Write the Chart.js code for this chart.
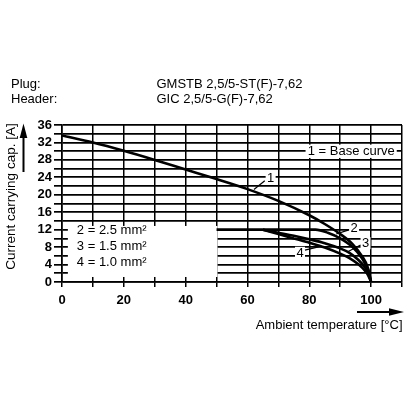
<!DOCTYPE html>
<html>
<head>
<meta charset="utf-8">
<script src="https://cdn.jsdelivr.net/npm/chart.js@4.4.1/dist/chart.umd.min.js"></script>
<style>
  html, body { margin: 0; padding: 0; background: #fff; }
  #wrap { position: relative; width: 408px; height: 408px; }
  canvas { position: absolute; left: 0; top: 0; }
  .hdr { position: absolute; font-family: "Liberation Sans", Arial, sans-serif; font-size: 13px; line-height: 15px; color: #000; white-space: nowrap; }
</style>
</head>
<body>
<div id="wrap">
  <canvas id="c" width="408" height="408"></canvas>
  <div class="hdr" style="left:11px; top:75.5px;">Plug:<br>Header:</div>
  <div class="hdr" style="left:156.5px; top:75.5px;">GMSTB 2,5/5-ST(F)-7,62<br>GIC 2,5/5-G(F)-7,62</div>
</div>
<script>
// ---- data ----
const temp1 = [0, 10, 20, 30, 40, 50, 60, 70, 80, 85, 90, 94, 97, 99, 100];
const baseCurve = [33.6, 32.0, 30.1, 28.0, 25.8, 23.6, 21.3, 18.6, 15.3, 13.3, 11.0, 8.7, 6.0, 3.2, 0];

const temp2 = [50, 82, 86, 90, 94, 97, 99, 100];
const cap25 = [12, 12, 11.3, 10.0, 8.0, 5.5, 2.8, 0];

const temp3 = [65, 70, 75, 80, 85, 90, 93, 96, 98, 99, 100];
const cap15 = [12, 11.3, 10.6, 9.8, 8.9, 7.7, 6.7, 5.0, 3.4, 2.2, 0];

const temp4 = [65, 70, 75, 80, 85, 90, 93, 96, 98, 99, 100];
const cap10 = [12, 11.0, 10.0, 9.0, 7.9, 6.5, 5.5, 4.0, 2.6, 1.6, 0];

const xLabelValues = [0, 20, 40, 60, 80, 100];
const yLabelValues = [0, 4, 8, 12, 16, 20, 24, 28, 32, 36];

const legendLines = ['2 = 2.5 mm\u00B2', '3 = 1.5 mm\u00B2', '4 = 1.0 mm\u00B2'];
const baseLabel = '1 = Base curve';
const yTitle = 'Current carrying cap. [A]';
const xTitle = 'Ambient temperature [\u00B0C]';

// ---- annotation placement (data coordinates) ----
const legendBox = { x0: 1.9, x1: 50.3, y0: 1.15, y1: 12.85 };
const legendTextPos = { x: 4.8, ys: [11.9, 8.2, 4.4] };
const baseBox = { x0: 78.8, x1: 108.3, y0: 28.45, y1: 31.5, tx: 93.6, ty: 30 };
const curveLabels = [
  { t: '1', x: 67.5, y: 23.9, lx0: 65.6, ly0: 23.2, lx1: 62.1, ly1: 21.2 },
  { t: '2', x: 94.5, y: 12.3, lx0: 92.6, ly0: 11.9, lx1: 88.7, ly1: 11.0 },
  { t: '3', x: 98.2, y: 8.9, lx0: 96.6, ly0: 8.5, lx1: 92.6, ly1: 7.0 },
  { t: '4', x: 77.0, y: 6.7, lx0: 78.6, ly0: 7.3, lx1: 83.3, ly1: 8.1 }
];

const FONT = '"Liberation Sans", Arial, sans-serif';
const pts = (xs, ys) => xs.map((x, i) => ({ x: x, y: ys[i] }));

const lineDs = (label, xs, ys) => ({
  label: label,
  data: pts(xs, ys),
  borderColor: '#000',
  borderWidth: 2.6,
  pointRadius: 0,
  fill: false,
  cubicInterpolationMode: 'monotone'
});

const annot = {
  id: 'annot',
  beforeDatasetsDraw(chart) {
    const ctx = chart.ctx, xs = chart.scales.x, ys = chart.scales.y;
    ctx.save();
    ctx.fillStyle = '#fff';
    // legend box
    let l = xs.getPixelForValue(legendBox.x0), r = xs.getPixelForValue(legendBox.x1);
    let t = ys.getPixelForValue(legendBox.y1), b = ys.getPixelForValue(legendBox.y0);
    ctx.fillRect(l, t, r - l, b - t);
    // base curve label box
    l = xs.getPixelForValue(baseBox.x0); r = xs.getPixelForValue(baseBox.x1);
    t = ys.getPixelForValue(baseBox.y1); b = ys.getPixelForValue(baseBox.y0);
    ctx.fillRect(l, t, r - l, b - t);
    ctx.fillStyle = '#000';
    ctx.font = '13px ' + FONT;
    ctx.textBaseline = 'middle';
    ctx.textAlign = 'center';
    ctx.fillText(baseLabel, xs.getPixelForValue(baseBox.tx), ys.getPixelForValue(baseBox.ty));
    ctx.textAlign = 'left';
    legendLines.forEach((s, i) => {
      ctx.fillText(s, xs.getPixelForValue(legendTextPos.x), ys.getPixelForValue(legendTextPos.ys[i]));
    });
    ctx.restore();
  },
  afterDatasetsDraw(chart) {
    const ctx = chart.ctx, xs = chart.scales.x, ys = chart.scales.y;
    ctx.save();
    ctx.font = '13px ' + FONT;
    ctx.textBaseline = 'middle';
    ctx.textAlign = 'center';
    curveLabels.forEach(c => {
      const px = xs.getPixelForValue(c.x), py = ys.getPixelForValue(c.y);
      ctx.fillStyle = '#fff';
      ctx.fillRect(px - 5, py - 6, 10, 12);
      ctx.fillStyle = '#000';
      ctx.fillText(c.t, px, py + 0.5);
      ctx.strokeStyle = '#000';
      ctx.lineWidth = 1.2;
      ctx.beginPath();
      ctx.moveTo(xs.getPixelForValue(c.lx0), ys.getPixelForValue(c.ly0));
      ctx.lineTo(xs.getPixelForValue(c.lx1), ys.getPixelForValue(c.ly1));
      ctx.stroke();
    });
    // y axis title + arrow
    ctx.save();
    ctx.translate(11.5, 196.5);
    ctx.rotate(-Math.PI / 2);
    ctx.font = '13.5px ' + FONT;
    ctx.fillText(yTitle, 0, 0);
    ctx.restore();
    ctx.fillStyle = '#000';
    ctx.strokeStyle = '#000';
    ctx.lineWidth = 2;
    ctx.beginPath(); ctx.moveTo(23.5, 172); ctx.lineTo(23.5, 134); ctx.stroke();
    ctx.beginPath(); ctx.moveTo(23.5, 123.5); ctx.lineTo(27.3, 138); ctx.lineTo(19.7, 138); ctx.closePath(); ctx.fill();
    // x axis title + arrow
    ctx.font = '13px ' + FONT;
    ctx.textAlign = 'right';
    ctx.fillText(xTitle, 402.5, 325);
    ctx.beginPath(); ctx.moveTo(357, 312); ctx.lineTo(393, 312); ctx.stroke();
    ctx.beginPath(); ctx.moveTo(404, 312); ctx.lineTo(389, 308.2); ctx.lineTo(389, 315.8); ctx.closePath(); ctx.fill();
    ctx.restore();
  }
};

new Chart(document.getElementById('c'), {
  type: 'line',
  data: {
    datasets: [
      lineDs('1 = Base curve', temp1, baseCurve),
      lineDs('2 = 2.5 mm\u00B2', temp2, cap25),
      lineDs('3 = 1.5 mm\u00B2', temp3, cap15),
      lineDs('4 = 1.0 mm\u00B2', temp4, cap10)
    ]
  },
  options: {
    responsive: false,
    animation: false,
    layout: { padding: { top: 125, right: 4, left: 0, bottom: 0 } },
    plugins: { legend: { display: false }, tooltip: { enabled: false } },
    scales: {
      x: {
        type: 'linear', min: 0, max: 110,
        afterFit: s => { s.height = 126; },
        ticks: {
          stepSize: 10, autoSkip: false, maxRotation: 0, padding: 6, color: '#000',
          font: { family: FONT, size: 13, weight: 'bold' },
          callback: v => xLabelValues.includes(v) ? String(v) : ''
        },
        grid: { color: '#000', lineWidth: 1.5, tickLength: 5 },
        border: { color: '#000', width: 1.6 }
      },
      y: {
        type: 'linear', min: 0, max: 36,
        afterFit: s => { s.width = 62; },
        ticks: {
          stepSize: 2, autoSkip: false, padding: 2, color: '#000',
          font: { family: FONT, size: 13, weight: 'bold' },
          callback: v => yLabelValues.includes(v) ? String(v) : ''
        },
        grid: { color: '#000', lineWidth: 1.7, tickLength: 8 },
        border: { color: '#000', width: 1.6 }
      }
    }
  },
  plugins: [annot]
});
</script>
</body>
</html>
